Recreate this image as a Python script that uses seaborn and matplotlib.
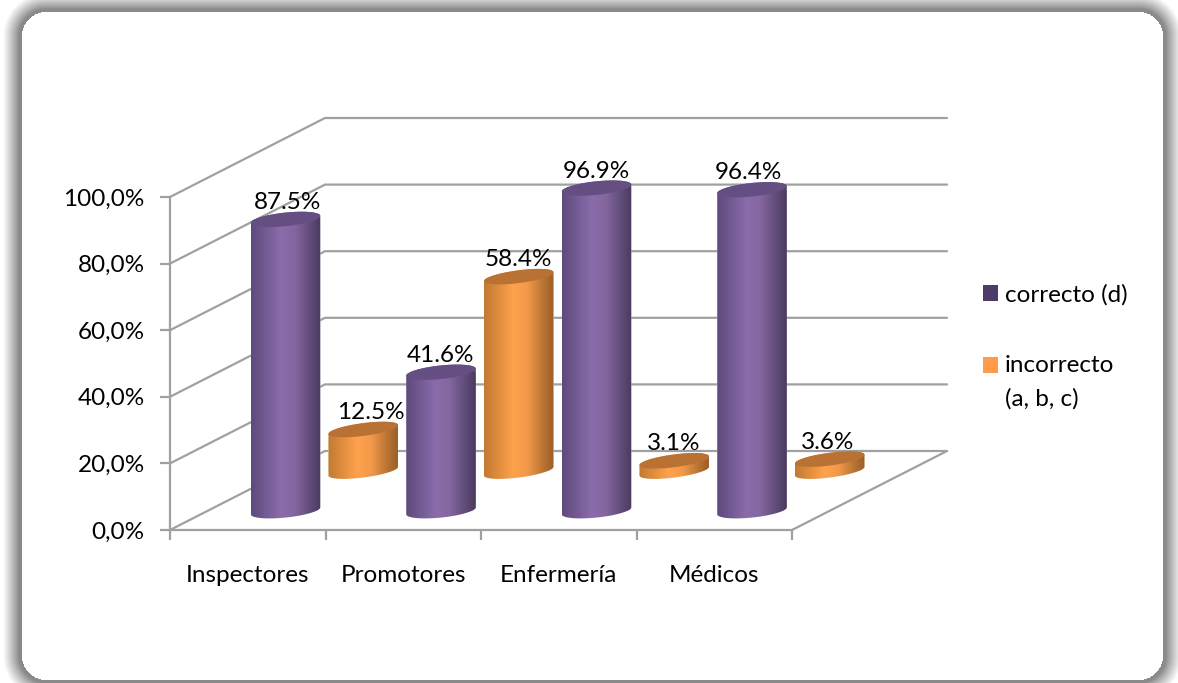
import numpy as np
import pandas as pd
import seaborn as sns
import matplotlib
matplotlib.use("Agg")
import matplotlib.pyplot as plt
from matplotlib.colors import LinearSegmentedColormap
from matplotlib.patches import Patch, Polygon
from matplotlib.ticker import FuncFormatter
from matplotlib.transforms import Affine2D

# Survey results per professional group (percent of answers)
categories = ["Inspectores", "Promotores", "Enfermería", "Médicos"]
correcto = [87.5, 41.6, 96.9, 96.4]
incorrecto = [12.5, 58.4, 3.1, 3.6]
series_names = ["correcto (d)", "incorrecto\n(a, b, c)"]
y_ticks = [0, 20, 40, 60, 80, 100]

W, H = 1178, 683
GRID = "#a0a0a0"
FONT = 17.5
LW = 1.6

sns.set_theme(style="white")
plt.rcParams["font.family"] = ["Lato", "DejaVu Sans"]

fig = plt.figure(figsize=(W / 100, H / 100), dpi=100, facecolor="white")

# Card background: rounded white panel with a soft grey drop shadow
bg = fig.add_axes([0, 0, 1, 1], zorder=0)
bg.axis("off")
px, py = np.meshgrid(np.arange(W) + 0.5, np.arange(H) + 0.5)
left, right, top, bottom, radius = 22, 1163, 12, 680, 24
qx = np.abs(px - (left + right) / 2) - ((right - left) / 2 - radius)
qy = np.abs(py - (top + bottom) / 2) - ((bottom - top) / 2 - radius)
dist = np.hypot(np.maximum(qx, 0), np.maximum(qy, 0)) + np.minimum(np.maximum(qx, qy), 0) - radius
shade = np.where(dist <= 0, 1.0, 0.54 + 0.46 * np.clip((dist - 3) / 16, 0, 1) ** 0.9)
bg.imshow(shade, cmap="gray", vmin=0, vmax=1, extent=(0, W, H, 0), aspect="auto", interpolation="bilinear")

# Front plane of the chart box
ax = fig.add_axes([170 / W, (H - 530) / H, 622 / W, 333 / H], zorder=1)
ax.patch.set_alpha(0)

data = pd.DataFrame({
    "grupo": categories * 2,
    "respuesta": [series_names[0]] * 4 + [series_names[1]] * 4,
    "valor": correcto + incorrecto,
})

BAR_WIDTH = 0.447
sns.barplot(
    data=data, x="grupo", y="valor", hue="respuesta", order=categories,
    hue_order=series_names, dodge=False, width=BAR_WIDTH, saturation=1,
    palette=["#8a6cab", "#ffa24d"], legend=False, zorder=3, ax=ax,
)

ax.set_xlim(-0.5, 3.5)
ax.set_ylim(0, 100)
px_per_x = 622 / 4
px_per_y = 333 / 100

# Oblique projection: how far the back wall is shifted, in data units
wall_dx, wall_dy = 155 / px_per_x, 79 / px_per_y

for v in y_ticks:
    ax.plot([-0.5, -0.5 + wall_dx, 3.5 + wall_dx], [v, v + wall_dy, v + wall_dy],
            color=GRID, lw=LW, clip_on=False, zorder=1, solid_capstyle="round")
ax.plot([3.5, 3.5 + wall_dx], [0, wall_dy], color=GRID, lw=LW, clip_on=False, zorder=1,
        solid_capstyle="round")

row_depth = [0.2435, 0.745]
ramps = [
    LinearSegmentedColormap.from_list("purple", [(0, "#5f4a7c"), (0.18, "#705890"), (0.42, "#8a6cab"),
                                                 (0.62, "#84679f"), (0.85, "#604c7a"), (1, "#4a3a5e")]),
    LinearSegmentedColormap.from_list("orange", [(0, "#c07a33"), (0.18, "#dc8b3c"), (0.42, "#ffa24d"),
                                                 (0.62, "#f2994a"), (0.85, "#b97433"), (1, "#9a5f28")]),
]
top_faces = ["#654f82", "#b97233"]
skew_px = [3.5, 4.4]
minor_px = [6.8, 6.4]
gradient = np.linspace(0, 1, 256).reshape(1, -1)

# Turn each flat bar into a shaded cylinder standing on its row of the floor
for row, container in enumerate(ax.containers):
    shift = Affine2D().translate(row_depth[row] * wall_dx, row_depth[row] * wall_dy) + ax.transData
    for bar in container:
        x0, w, h = bar.get_x(), bar.get_width(), bar.get_height()
        cx = x0 + w / 2
        a = w / 2
        s = skew_px[row] / px_per_y
        b = minor_px[row] / px_per_y
        t_low = np.linspace(np.pi, 2 * np.pi, 60)
        t_up = np.linspace(0, np.pi, 60)
        low = np.c_[cx + a * np.cos(t_low), s * np.cos(t_low) + b * np.sin(t_low)]
        up = np.c_[cx + a * np.cos(t_up), h + s * np.cos(t_up) + b * np.sin(t_up)]
        outline = Polygon(np.r_[low, up], closed=True, transform=shift)

        bar.set_transform(shift)
        bar.set_clip_path(outline)
        bar.set_clip_box(fig.bbox)

        im = ax.imshow(gradient, cmap=ramps[row], extent=(x0, x0 + w, -2 * b - s, h + 2 * b + s),
                       aspect="auto", zorder=3.2, interpolation="bilinear")
        im.set_transform(shift)
        im.set_clip_path(outline)
        im.set_clip_box(fig.bbox)

        t_all = np.linspace(0, 2 * np.pi, 120)
        cap = np.c_[cx + a * np.cos(t_all), h + s * np.cos(t_all) + b * np.sin(t_all)]
        ax.add_patch(Polygon(cap, closed=True, facecolor=top_faces[row], edgecolor="none",
                             transform=shift, clip_on=False, zorder=3.4))

# Value labels sit just above each cap
label_nudge_px = [[2, -1, 0, -4], [8, 0, -1, -2]]
for row, container in enumerate(ax.containers):
    shift = Affine2D().translate(row_depth[row] * wall_dx, row_depth[row] * wall_dy) + ax.transData
    for i, bar in enumerate(container):
        ax.annotate(f"{bar.get_height():.1f}%",
                    xy=(bar.get_x() + bar.get_width() / 2, bar.get_height()), xycoords=shift,
                    xytext=(label_nudge_px[row][i], 17), textcoords="offset pixels",
                    ha="center", va="center", fontsize=FONT, color="black",
                    annotation_clip=False, zorder=5)

ax.set_xlim(-0.5, 3.5)
ax.set_ylim(0, 100)
sns.despine(ax=ax)
for side in ("left", "bottom"):
    ax.spines[side].set_color(GRID)
    ax.spines[side].set_linewidth(LW)

ax.set_xlabel("")
ax.set_ylabel("")
ax.set_yticks(y_ticks)
ax.yaxis.set_major_formatter(FuncFormatter(lambda v, _: f"{v:.1f}%".replace(".", ",")))
ax.set_xticks(np.arange(5) - 0.5, labels=[""] * 5)
ax.set_xticks(np.arange(4), labels=categories, minor=True)
ax.tick_params(axis="y", which="major", left=True, length=7.2, width=LW, color=GRID, pad=11,
               labelsize=FONT, labelcolor="black")
ax.tick_params(axis="x", which="major", bottom=True, length=7.2, width=LW, color=GRID)
ax.tick_params(axis="x", which="minor", bottom=False, length=0, pad=25.5, labelsize=FONT, labelcolor="black")

handles = [Patch(facecolor="#4f3b68", edgecolor="none"), Patch(facecolor="#ff9b4a", edgecolor="none")]
leg = ax.legend(handles, series_names, loc="upper left", frameon=False,
                bbox_to_anchor=(983 / W, (H - 284) / H), bbox_transform=fig.transFigure,
                fontsize=FONT, handlelength=0.62, handleheight=0.62, handletextpad=0.29,
                labelspacing=2.05, borderpad=0, borderaxespad=0, labelcolor="black")
# Two-line entry: wider line spacing, with its swatch level with the first line
leg.get_texts()[1].set_linespacing(1.68)
leg.legend_handles[1].set_y(13.2)

fig.savefig("out.png", dpi=100)
